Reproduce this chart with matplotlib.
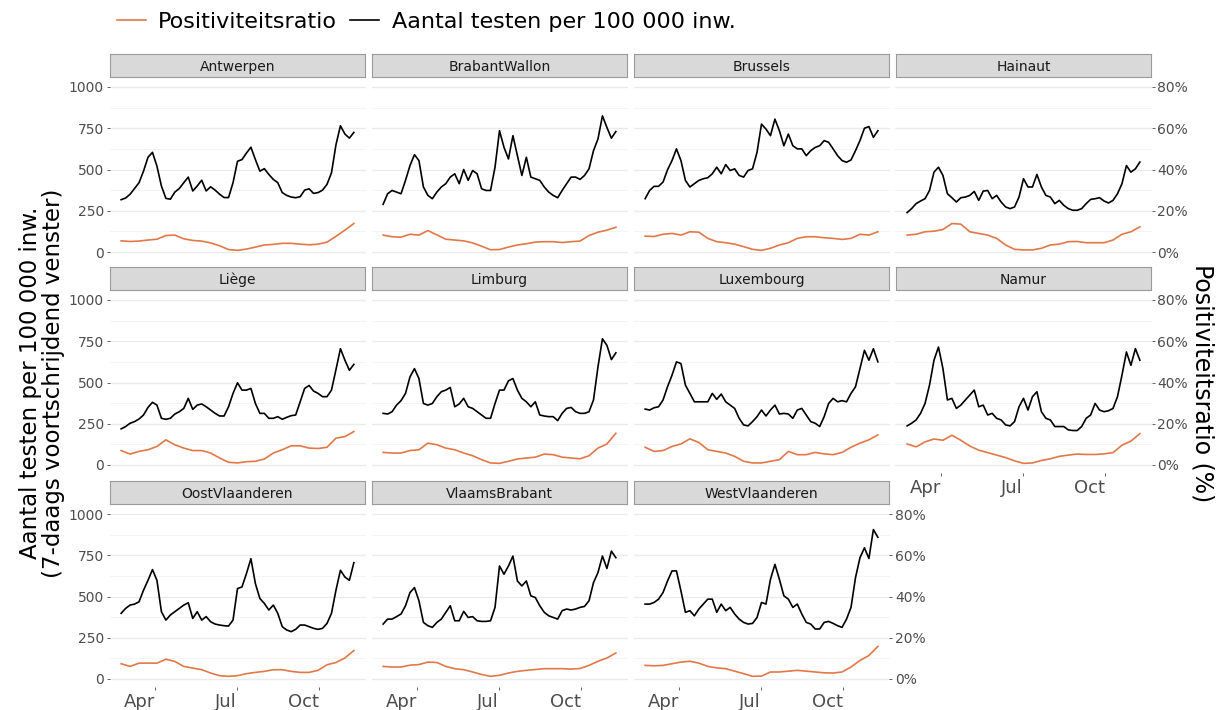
import numpy as np
import matplotlib
matplotlib.use('Agg')
import matplotlib.pyplot as plt
import matplotlib.dates as mdates
from matplotlib.lines import Line2D
from matplotlib.ticker import FuncFormatter

# time grid: tests every 5 days, ratio every 10 days (2021-02-22 .. 2021-11-09)
start = np.datetime64('2021-02-22')
test_dates = start + np.arange(53) * np.timedelta64(5, 'D')
ratio_dates = start + np.arange(27) * np.timedelta64(10, 'D')

provinces = ['Antwerpen', 'BrabantWallon', 'Brussels', 'Hainaut', 'Liège', 'Limburg',
             'Luxembourg', 'Namur', 'OostVlaanderen', 'VlaamsBrabant', 'WestVlaanderen']

# tests per 100 000 inhabitants (7-day window)
tests_antwerpen = [317, 327, 350, 385, 420, 490, 574, 604, 520, 400, 325, 320, 363, 385, 420, 454, 370, 400,
                   435, 370, 395, 375, 350, 330, 330, 420, 550, 560, 600, 635, 560, 490, 505, 470, 440, 420,
                   360, 343, 333, 329, 335, 375, 383, 355, 360, 375, 410, 480, 650, 765, 715, 690, 725]
tests_brabantwallon = [289, 353, 373, 363, 353, 434, 524, 590, 554, 394, 343, 323, 363, 394, 414, 454, 474, 414,
                       500, 434, 494, 474, 383, 373, 373, 514, 735, 635, 564, 705, 584, 464, 574, 454, 444, 434,
                       394, 363, 343, 329, 373, 414, 454, 454, 440, 464, 504, 614, 685, 825, 755, 690, 730]
tests_brussels = [323, 373, 398, 398, 424, 498, 554, 625, 554, 434, 394, 414, 434, 444, 450, 474, 514, 474,
                  530, 494, 504, 464, 454, 494, 504, 604, 775, 745, 705, 805, 735, 644, 715, 644, 625, 625,
                  584, 614, 634, 644, 675, 665, 625, 584, 554, 544, 558, 614, 675, 750, 760, 695, 735]
tests_hainaut = [239, 263, 293, 309, 323, 373, 484, 514, 464, 353, 329, 303, 329, 333, 343, 367, 313, 369,
                 373, 323, 343, 303, 273, 263, 273, 333, 444, 394, 394, 470, 394, 343, 333, 293, 313, 283,
                 263, 253, 253, 263, 293, 319, 323, 329, 309, 297, 313, 353, 414, 524, 484, 504, 545]
tests_liege = [219, 233, 253, 263, 279, 303, 349, 380, 363, 283, 277, 283, 309, 323, 343, 404, 337, 363,
               370, 353, 333, 313, 297, 297, 353, 434, 498, 454, 454, 464, 373, 313, 313, 283, 283, 293,
               277, 289, 299, 303, 383, 464, 482, 448, 434, 414, 414, 454, 578, 705, 635, 574, 610]
tests_limburg = [313, 309, 323, 363, 390, 434, 534, 584, 524, 373, 363, 373, 414, 444, 454, 470, 353, 370,
                 404, 353, 343, 323, 303, 283, 283, 373, 454, 454, 510, 524, 454, 404, 383, 353, 383, 303,
                 297, 293, 293, 269, 313, 343, 349, 323, 313, 313, 323, 394, 594, 765, 725, 639, 680]
tests_luxembourg = [339, 333, 347, 353, 394, 474, 544, 625, 615, 484, 434, 383, 383, 383, 383, 434, 398, 430,
                    383, 363, 343, 283, 243, 237, 263, 293, 333, 297, 333, 363, 309, 313, 309, 283, 333, 343,
                    303, 263, 253, 233, 293, 373, 404, 383, 390, 383, 434, 474, 584, 695, 635, 705, 625]
tests_namur = [237, 253, 273, 313, 373, 484, 635, 715, 584, 394, 404, 343, 363, 394, 424, 454, 353, 363,
               303, 313, 283, 273, 243, 237, 263, 353, 404, 333, 414, 444, 323, 283, 273, 233, 233, 233,
               213, 209, 209, 233, 283, 303, 373, 333, 323, 329, 343, 414, 544, 685, 604, 705, 635]
tests_oostvlaanderen = [398, 428, 448, 454, 468, 538, 598, 663, 598, 408, 357, 388, 408, 428, 448, 462, 367, 408,
                        357, 378, 347, 333, 327, 323, 321, 357, 548, 558, 639, 729, 578, 488, 458, 418, 448, 398,
                        317, 297, 287, 301, 327, 327, 317, 307, 301, 307, 337, 398, 538, 659, 618, 598, 705]
tests_vlaamsbrabant = [333, 363, 363, 378, 394, 444, 524, 554, 474, 343, 323, 313, 343, 363, 404, 444, 353, 353,
                       410, 373, 378, 353, 349, 349, 353, 434, 685, 635, 685, 745, 594, 564, 594, 504, 494, 444,
                       404, 383, 373, 363, 414, 424, 418, 424, 434, 440, 474, 584, 645, 745, 670, 775, 735]
tests_westvlaanderen = [454, 454, 464, 484, 524, 594, 655, 655, 534, 404, 414, 383, 424, 454, 484, 484, 404, 454,
                        414, 434, 394, 363, 343, 333, 337, 373, 464, 454, 604, 695, 604, 504, 484, 434, 454, 394,
                        343, 333, 303, 303, 343, 349, 337, 323, 313, 363, 434, 614, 735, 795, 730, 906, 859]

# positivity ratio (%)
ratio_antwerpen = [5.4, 5.1, 5.3, 5.8, 6.2, 8.0, 8.2, 6.4, 5.6, 5.3, 4.4, 3.0, 1.2, 0.8, 1.4, 2.4, 3.4, 3.7,
                   4.2, 4.2, 3.8, 3.5, 3.8, 4.8, 7.6, 10.6, 13.8]
ratio_brabantwallon = [8.2, 7.4, 7.2, 8.6, 8.2, 10.4, 8.3, 6.2, 5.8, 5.4, 4.4, 2.8, 1.1, 1.2, 2.4, 3.4, 4.0, 4.8,
                       5.0, 5.0, 4.6, 5.0, 5.3, 8.0, 9.6, 10.6, 12.0]
ratio_brussels = [7.7, 7.5, 8.6, 9.0, 8.2, 9.8, 9.6, 6.6, 5.0, 4.5, 3.8, 2.6, 1.3, 0.8, 1.8, 3.4, 4.5, 6.6,
                  7.4, 7.4, 6.9, 6.6, 6.1, 6.6, 8.6, 8.2, 9.8]
ratio_hainaut = [8.2, 8.6, 9.8, 10.1, 10.9, 13.8, 13.5, 9.8, 9.0, 8.2, 6.6, 3.4, 1.3, 1.0, 1.0, 1.8, 3.4, 3.8,
                 5.0, 5.1, 4.5, 4.5, 4.5, 5.8, 8.6, 9.8, 12.2]
ratio_liege = [7.0, 5.3, 6.6, 7.4, 9.0, 12.2, 9.8, 8.2, 7.0, 7.0, 5.8, 3.4, 1.3, 1.0, 1.6, 1.8, 2.9, 5.8,
               7.4, 9.3, 9.3, 8.2, 8.0, 8.6, 13.0, 13.8, 16.2]
ratio_limburg = [6.1, 5.8, 5.8, 7.0, 7.4, 10.6, 9.8, 8.2, 7.4, 5.8, 4.5, 2.6, 1.0, 0.8, 1.8, 2.9, 3.4, 3.8,
                 5.3, 5.0, 3.8, 3.4, 3.0, 4.5, 8.2, 10.2, 15.4]
ratio_luxembourg = [8.6, 6.6, 7.0, 9.0, 10.2, 12.7, 10.9, 7.4, 6.6, 5.8, 4.2, 1.8, 1.0, 1.0, 1.8, 2.6, 6.6, 5.0,
                    5.0, 6.1, 5.4, 5.0, 6.1, 8.6, 10.6, 12.2, 14.6]
ratio_namur = [10.2, 8.8, 11.2, 12.6, 12.0, 14.4, 12.0, 9.2, 7.2, 6.0, 4.8, 3.6, 2.0, 0.8, 1.0, 2.2, 3.0, 4.2,
               4.8, 5.3, 5.1, 5.1, 5.4, 6.0, 9.6, 11.6, 15.2]
ratio_oostvlaanderen = [7.4, 6.1, 7.7, 7.7, 7.7, 9.6, 8.5, 6.1, 5.3, 4.5, 2.9, 1.6, 1.3, 1.6, 2.6, 3.2, 3.7, 4.5,
                        4.5, 3.7, 3.2, 3.2, 4.2, 6.9, 8.0, 10.2, 13.8]
ratio_vlaamsbrabant = [6.1, 5.8, 5.8, 6.7, 7.0, 8.2, 8.0, 6.1, 5.0, 4.5, 3.4, 2.2, 1.3, 1.8, 2.9, 3.7, 4.2, 4.6,
                       5.0, 5.0, 5.0, 4.8, 5.1, 6.6, 8.6, 10.2, 12.6]
ratio_westvlaanderen = [6.6, 6.4, 6.6, 7.4, 8.2, 8.6, 7.7, 6.1, 5.4, 5.0, 3.8, 2.6, 1.3, 1.4, 3.4, 3.4, 3.8, 4.2,
                        3.8, 3.4, 3.0, 2.9, 3.4, 5.8, 9.0, 11.4, 15.8]

tests = [tests_antwerpen, tests_brabantwallon, tests_brussels, tests_hainaut, tests_liege, tests_limburg,
         tests_luxembourg, tests_namur, tests_oostvlaanderen, tests_vlaamsbrabant, tests_westvlaanderen]
ratios = [ratio_antwerpen, ratio_brabantwallon, ratio_brussels, ratio_hainaut, ratio_liege, ratio_limburg,
          ratio_luxembourg, ratio_namur, ratio_oostvlaanderen, ratio_vlaamsbrabant, ratio_westvlaanderen]

ORANGE = '#E27848'
GREY_TXT = '#4D4D4D'

W, H = 1216, 710
fig = plt.figure(figsize=(W / 100, H / 100), dpi=100)


def frac(x, y, w, h):
    return [x / W, 1 - (y + h) / H, w / W, h / H]


col_x = [109.5, 371.5, 633.5, 895.5]
row_y = [78.75, 291.75, 505.75]
pw, ph = 256, 181.5
pad_days = np.timedelta64(13, 'D')

for i, name in enumerate(provinces):
    r, c = divmod(i, 4)
    ax = fig.add_axes(frac(col_x[c], row_y[r], pw, ph))
    ax2 = ax.twinx()

    ax.plot(test_dates, tests[i], color='black', lw=1.2)
    ax2.plot(ratio_dates, ratios[i], color=ORANGE, lw=1.2)

    ax.set_xlim(test_dates[0] - pad_days, test_dates[-1] + pad_days)
    ax.set_ylim(-50, 1050)
    ax2.set_ylim(-4, 84)

    ax.set_yticks([0, 250, 500, 750, 1000])
    ax.set_yticks([125, 375, 625, 875], minor=True)
    ax.grid(axis='y', which='major', color='#EBEBEB', lw=1.0)
    ax.grid(axis='y', which='minor', color='#F3F3F3', lw=0.6)
    ax.set_axisbelow(True)
    for a in (ax, ax2):
        for s in a.spines.values():
            s.set_visible(False)

    ax.xaxis.set_major_locator(mdates.MonthLocator(bymonth=[4, 7, 10]))
    ax.xaxis.set_major_formatter(mdates.DateFormatter('%b'))

    # left axis labels only on first column
    ax.tick_params(axis='y', which='minor', length=0)
    if c == 0:
        ax.tick_params(axis='y', length=2.5, width=0.6, color=GREY_TXT, pad=1.5,
                       labelsize=10, labelcolor=GREY_TXT)
    else:
        ax.tick_params(axis='y', length=0, labelleft=False)

    # x axis labels only at bottom of each column
    if r == 2 or (r == 1 and c == 3):
        ax.tick_params(axis='x', length=2.5, width=0.6, color=GREY_TXT, pad=1.5,
                       labelsize=13, labelcolor=GREY_TXT)
        for lab in ax.get_xticklabels():
            lab.set_ha('right')
    else:
        ax.tick_params(axis='x', length=0, labelbottom=False)

    # right axis on last panel of each row
    ax2.set_yticks([0, 20, 40, 60, 80])
    if (r < 2 and c == 3) or (r == 2 and c == 2):
        ax2.yaxis.set_major_formatter(FuncFormatter(lambda v, p: f'{v:.0f}%'))
        ax2.tick_params(axis='y', length=2.5, width=0.6, color=GREY_TXT, pad=1.5,
                        labelsize=10, labelcolor=GREY_TXT)
    else:
        ax2.tick_params(axis='y', length=0, labelright=False)

    # facet strip
    st = fig.add_axes(frac(col_x[c] + 0.5, row_y[r] - 24.75, pw - 1, 23))
    st.set_facecolor('#D9D9D9')
    for s in st.spines.values():
        s.set_color('#9A9A9A')
        s.set_linewidth(0.8)
    st.set_xticks([])
    st.set_yticks([])
    st.text(0.5, 0.45, name, ha='center', va='center', fontsize=10, color='#1A1A1A',
            transform=st.transAxes)

fig.text(42 / W, 1 - 383 / H,
         'Aantal testen per 100 000 inw.\n(7-daags voortschrijdend venster)',
         rotation=90, ha='center', va='center', fontsize=16.5, linespacing=0.95)
fig.text(1203 / W, 1 - 383 / H, 'Positiviteitsratio (%)', rotation=270,
         ha='center', va='center', fontsize=17)

handles = [Line2D([], [], color=ORANGE, lw=1.2), Line2D([], [], color='black', lw=1.2)]
fig.legend(handles, ['Positiviteitsratio', 'Aantal testen per 100 000 inw.'],
           loc='center left', bbox_to_anchor=(117 / W, 1 - 22 / H), ncol=2, frameon=False,
           fontsize=16, handlelength=1.3, handletextpad=0.55, columnspacing=0.6,
           borderpad=0, borderaxespad=0)

fig.savefig('out.png', dpi=100)
